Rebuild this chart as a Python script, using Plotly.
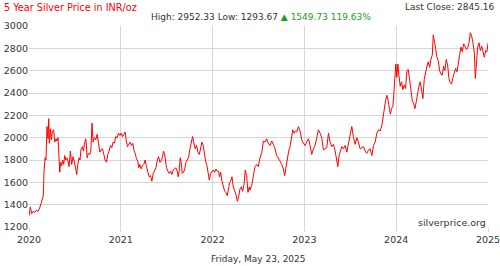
import plotly.graph_objects as go

# decimal year positions and silver price (INR/oz)
years = [
    2020.000, 2020.007, 2020.015, 2020.029, 2020.044, 2020.062, 2020.080, 2020.098, 2020.116, 2020.135,
    2020.145, 2020.156, 2020.164, 2020.175, 2020.185, 2020.196, 2020.207, 2020.215, 2020.222, 2020.233,
    2020.244, 2020.255, 2020.269, 2020.280, 2020.295, 2020.305, 2020.316, 2020.327, 2020.335, 2020.345,
    2020.356, 2020.367, 2020.378, 2020.389, 2020.400, 2020.411, 2020.425, 2020.436, 2020.451, 2020.465,
    2020.480, 2020.495, 2020.509, 2020.520, 2020.531, 2020.545, 2020.556, 2020.567, 2020.582, 2020.593,
    2020.604, 2020.618, 2020.625, 2020.633, 2020.647, 2020.662, 2020.673, 2020.687, 2020.698, 2020.713,
    2020.727, 2020.742, 2020.756, 2020.771, 2020.785, 2020.800, 2020.815, 2020.829, 2020.844, 2020.858,
    2020.873, 2020.887, 2020.902, 2020.916, 2020.931, 2020.945, 2020.960, 2020.975, 2020.989,
    2021.004, 2021.018, 2021.033, 2021.047, 2021.062, 2021.073, 2021.087, 2021.102, 2021.116, 2021.131,
    2021.145, 2021.156, 2021.171, 2021.185, 2021.196, 2021.207, 2021.222, 2021.236, 2021.251, 2021.265,
    2021.280, 2021.295, 2021.309, 2021.324, 2021.338, 2021.353, 2021.367, 2021.382, 2021.396, 2021.411,
    2021.425, 2021.440, 2021.455, 2021.465, 2021.476, 2021.487, 2021.498, 2021.513, 2021.527, 2021.542,
    2021.556, 2021.571, 2021.585, 2021.600, 2021.615, 2021.625, 2021.636, 2021.647, 2021.658, 2021.669,
    2021.680, 2021.695, 2021.709, 2021.724, 2021.738, 2021.753, 2021.767, 2021.782, 2021.796, 2021.811,
    2021.825, 2021.840, 2021.855, 2021.869, 2021.884, 2021.898, 2021.909, 2021.924, 2021.938, 2021.953,
    2021.964, 2021.978, 2021.993,
    2022.007, 2022.022, 2022.036, 2022.051, 2022.065, 2022.076, 2022.087, 2022.102, 2022.116, 2022.131,
    2022.145, 2022.160, 2022.175, 2022.185, 2022.196, 2022.211, 2022.225, 2022.240, 2022.255, 2022.269,
    2022.284, 2022.298, 2022.313, 2022.327, 2022.342, 2022.356, 2022.371, 2022.385, 2022.400, 2022.407,
    2022.425, 2022.444, 2022.462, 2022.480, 2022.498, 2022.516, 2022.535, 2022.553, 2022.571, 2022.589,
    2022.607, 2022.625, 2022.644, 2022.662, 2022.680, 2022.698, 2022.716, 2022.735, 2022.753, 2022.771,
    2022.785, 2022.800, 2022.815, 2022.829, 2022.844, 2022.858, 2022.873, 2022.887, 2022.902, 2022.916,
    2022.935, 2022.953, 2022.971, 2022.989,
    2023.007, 2023.025, 2023.044, 2023.062, 2023.080, 2023.098, 2023.116, 2023.135, 2023.153, 2023.171,
    2023.189, 2023.207, 2023.225, 2023.244, 2023.262, 2023.280, 2023.298, 2023.316, 2023.335, 2023.353,
    2023.364, 2023.378, 2023.393, 2023.407, 2023.425, 2023.444, 2023.462, 2023.480, 2023.498, 2023.516,
    2023.535, 2023.553, 2023.571, 2023.589, 2023.607, 2023.625, 2023.644, 2023.662, 2023.680, 2023.698,
    2023.716, 2023.735, 2023.753, 2023.771, 2023.789, 2023.807, 2023.825, 2023.844, 2023.855, 2023.869,
    2023.884, 2023.898, 2023.913, 2023.927, 2023.938, 2023.949, 2023.964, 2023.975, 2023.985, 2023.996,
    2024.007, 2024.018, 2024.029, 2024.044, 2024.058, 2024.073, 2024.087, 2024.102, 2024.116, 2024.131,
    2024.145, 2024.160, 2024.175, 2024.189, 2024.204, 2024.218, 2024.233, 2024.247, 2024.262, 2024.276,
    2024.291, 2024.305, 2024.320, 2024.335, 2024.349, 2024.364, 2024.378, 2024.393, 2024.404, 2024.415,
    2024.429, 2024.444, 2024.458, 2024.473, 2024.487, 2024.502, 2024.516, 2024.531, 2024.545, 2024.560,
    2024.575, 2024.589, 2024.604, 2024.618, 2024.633, 2024.647, 2024.662, 2024.676, 2024.691, 2024.705,
    2024.720, 2024.735, 2024.749, 2024.764, 2024.778, 2024.793, 2024.807, 2024.822, 2024.836, 2024.851,
    2024.862, 2024.873, 2024.887, 2024.902, 2024.916, 2024.931, 2024.945, 2024.960, 2024.975, 2024.989,
    2025.000,
]

prices = [
    1300, 1360, 1380, 1320, 1340, 1330, 1350, 1340, 1370, 1420,
    1460, 1480, 1700, 1820, 1800, 2100, 1990, 2170, 1950, 2080,
    1980, 2060, 2070, 1960, 1990, 1970, 2000, 1820, 1690, 1780,
    1750, 1800, 1760, 1840, 1800, 1820, 1790, 1740, 1880, 1760,
    1830, 1780, 1720, 1670, 1760, 1820, 1800, 1900, 1920, 1880,
    1940, 1990, 1930, 1820, 1860, 1850, 1880, 2130, 1960, 2000,
    1980, 2030, 1960, 1870, 1890, 1900, 1850, 1800, 1780, 1850,
    1880, 1930, 1910, 1960, 1950, 2010, 2000, 2040, 2020,
    2040, 2010, 2030, 2050, 1960, 1920, 1940, 1960, 1930, 1950,
    1880, 1860, 1810, 1790, 1730, 1760, 1720, 1750, 1760, 1800,
    1740, 1680, 1650, 1660, 1610, 1680, 1700, 1730, 1790, 1830,
    1780, 1790, 1830, 1880, 1860, 1800, 1730, 1700, 1680, 1700,
    1670, 1710, 1720, 1730, 1700, 1650, 1700, 1820, 1780, 1680,
    1690, 1710, 1780, 1800, 1820, 1900, 1960, 2010, 1950, 1900,
    1930, 1870, 1850, 1900, 1960, 1930, 1850, 1790, 1750, 1680,
    1620, 1680, 1700,
    1710, 1690, 1720, 1700, 1700, 1650, 1690, 1610, 1560, 1520,
    1510, 1480, 1550, 1600, 1610, 1650, 1560, 1530, 1490, 1430,
    1470, 1540, 1560, 1520, 1580, 1710, 1660, 1510, 1560, 1530,
    1570, 1660, 1740, 1760, 1740, 1820, 1860, 1970, 1960, 1990,
    1950, 1930, 1970, 1940, 1900, 1840, 1820, 1790, 1760, 1720,
    1660, 1750, 1820, 1880, 1920, 1990, 2070, 2040, 2060, 2050,
    2100, 2060, 1980, 1950,
    1930, 1960, 1990, 1930, 1850, 1900, 1930, 2000, 2070, 2040,
    2000, 1890, 1900, 1910, 2040, 1960, 1920, 1940, 1880, 1800,
    1740, 1840, 1890, 1920, 1900, 1930, 1870, 1950, 2000, 2100,
    2000, 1940, 2000, 1960, 1900, 1910, 1920, 1880, 1860, 1890,
    1900, 1840, 1930, 1960, 2040, 2070, 2060, 2110, 2170, 2280,
    2330, 2380, 2330, 2250, 2210, 2260, 2280, 2400, 2600, 2660,
    2540, 2660, 2560, 2460, 2500, 2430, 2470, 2440, 2600, 2610,
    2530, 2440, 2330, 2310, 2260, 2320, 2400, 2460, 2500, 2420,
    2350, 2520, 2590, 2640, 2680, 2630, 2700, 2740, 2920, 2850,
    2800, 2720, 2690, 2600, 2570, 2560, 2640, 2600, 2700, 2650,
    2530, 2490, 2480, 2540, 2580, 2620, 2590, 2670, 2760, 2810,
    2770, 2840, 2820, 2790, 2800, 2850, 2940, 2910, 2850, 2760,
    2530, 2670, 2810, 2850, 2780, 2820, 2760, 2720, 2780, 2770,
    2845,
]

year_ticks = [2020, 2021, 2022, 2023, 2024, 2025]
price_ticks = [1200, 1400, 1600, 1800, 2000, 2200, 2400, 2600, 2800, 3000]

title_text = "5 Year Silver Price in INR/oz"
last_close_text = "Last Close: 2845.16"
stats_text = "High: 2952.33 Low: 1293.67"
change_text = "▲ 1549.73 119.63%"
date_text = "Friday, May 23, 2025"
brand_text = "silverprice.org"

FONT = "DejaVu Sans"
GRID = "#d6d6d6"
TXT = "#333333"

fig = go.Figure()
fig.add_trace(go.Scatter(
    x=years, y=prices, mode="lines",
    line=dict(color="#ff0000", width=1),
    hoverinfo="skip", showlegend=False,
))

L, R, T, B = 29, 12, 26, 39
W, H = 500, 266
pw = W - L - R
ph = H - T - B


def px(x):
    return (x - L) / pw


def py(y):
    return (H - B - y) / ph


fig.update_layout(
    width=W, height=H,
    margin=dict(l=L, r=R, t=T, b=B, pad=0, autoexpand=False),
    paper_bgcolor="white", plot_bgcolor="white",
    font=dict(family=FONT, size=9, color=TXT),
    xaxis=dict(
        range=[2020, 2025], tickmode="array", tickvals=year_ticks,
        ticktext=[str(v) for v in year_ticks],
        showgrid=True, gridcolor=GRID, gridwidth=1,
        showline=False, zeroline=False, automargin=False,
        ticks="outside", ticklen=4, tickcolor=GRID,
        ticklabeloverflow="allow",
        tickfont=dict(family=FONT, size=9.5, color=TXT),
    ),
    yaxis=dict(
        range=[1200, 3000], tickmode="array", tickvals=price_ticks,
        showgrid=True, gridcolor=GRID, gridwidth=1,
        showline=False, zeroline=False, ticks="", automargin=False,
        ticklabeloverflow="allow",
        tickfont=dict(family=FONT, size=9.5, color=TXT),
    ),
    annotations=[
        dict(text=title_text, xref="paper", yref="paper", x=px(2), y=py(7),
             xanchor="left", yanchor="middle", showarrow=False,
             font=dict(family=FONT, size=9.7, color="#ff0000")),
        dict(text=last_close_text, xref="paper", yref="paper", x=px(497), y=py(7),
             xanchor="right", yanchor="middle", showarrow=False,
             font=dict(family=FONT, size=9, color=TXT)),
        dict(text=stats_text + " <span style='color:#1f9a1f'>" + change_text + "</span>",
             xref="paper", yref="paper", x=px(260.5), y=py(16.5),
             xanchor="center", yanchor="middle", showarrow=False,
             font=dict(family=FONT, size=9, color=TXT)),
        dict(text=brand_text, xref="paper", yref="paper", x=px(488), y=py(222),
             xanchor="right", yanchor="middle", showarrow=False,
             font=dict(family=FONT, size=9.5, color=TXT)),
        dict(text=date_text, xref="paper", yref="paper", x=px(258), y=py(258.5),
             xanchor="center", yanchor="middle", showarrow=False,
             font=dict(family=FONT, size=9, color=TXT)),
    ],
)

fig.write_html("out.html")
